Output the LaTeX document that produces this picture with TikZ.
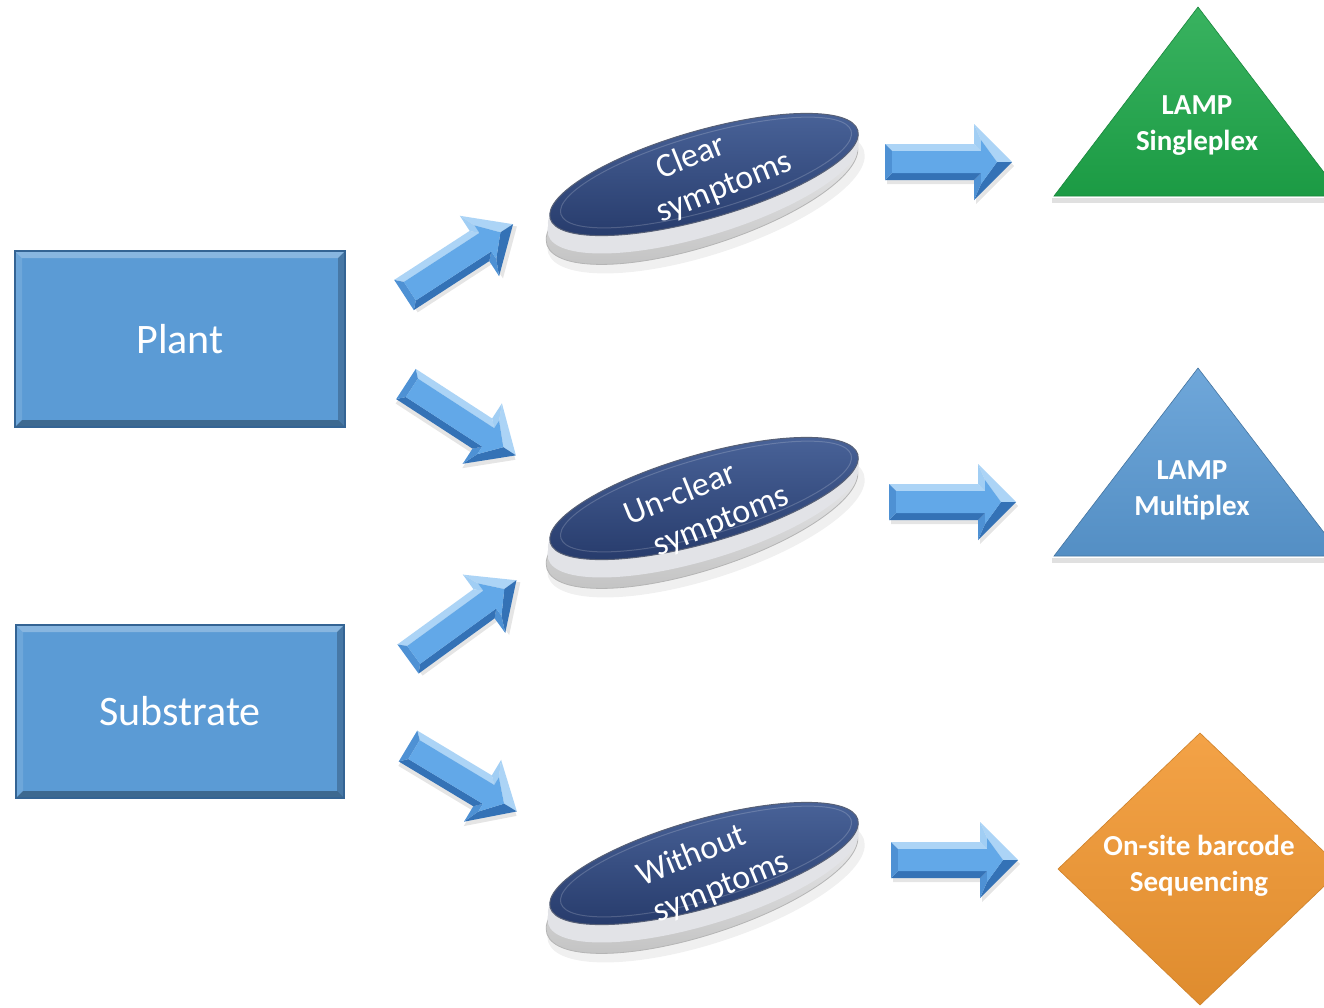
\documentclass[tikz,border=0pt]{standalone}
\usepackage{fontspec}
\setmainfont{Carlito}
\usetikzlibrary{shapes.geometric,shadows,calc}

\definecolor{boxblue}{RGB}{91,155,213}
\definecolor{boxedge}{RGB}{52,100,148}
\definecolor{navytop}{RGB}{74,100,154}
\definecolor{navybot}{RGB}{38,58,106}
\definecolor{arrlight}{RGB}{172,212,246}
\definecolor{arrbase}{RGB}{98,168,232}
\definecolor{arrmid}{RGB}{78,145,212}
\definecolor{arrdark}{RGB}{52,114,182}
\definecolor{lampgreen}{RGB}{30,168,74}
\definecolor{lampblue}{RGB}{91,155,213}
\definecolor{seqorange}{RGB}{242,152,50}
\definecolor{rimgray}{RGB}{226,227,231}

\tikzset{
  sourcebox/.style={rectangle, draw=boxedge, line width=1.6pt, fill=boxblue,
    text=white, font=\fontsize{42}{50}\selectfont, inner sep=0pt,
    path picture={
      \fill[white,opacity=0.28] (path picture bounding box.north west) -- (path picture bounding box.north east)
        -- ([shift={(-7pt,-7pt)}]path picture bounding box.north east) -- ([shift={(7pt,-7pt)}]path picture bounding box.north west) -- cycle;
      \fill[white,opacity=0.12] (path picture bounding box.north west) -- (path picture bounding box.south west)
        -- ([shift={(7pt,7pt)}]path picture bounding box.south west) -- ([shift={(7pt,-7pt)}]path picture bounding box.north west) -- cycle;
      \fill[black,opacity=0.22] (path picture bounding box.north east) -- (path picture bounding box.south east)
        -- ([shift={(-7pt,7pt)}]path picture bounding box.south east) -- ([shift={(-7pt,-7pt)}]path picture bounding box.north east) -- cycle;
      \fill[black,opacity=0.32] (path picture bounding box.south west) -- (path picture bounding box.south east)
        -- ([shift={(-7pt,7pt)}]path picture bounding box.south east) -- ([shift={(7pt,7pt)}]path picture bounding box.south west) -- cycle;
    }},
  rimshadow/.style={ellipse, minimum width=332pt, minimum height=106pt, inner sep=0pt, rotate=18,
    fill=black, opacity=0.06},
  rimbase/.style={ellipse, minimum width=326pt, minimum height=102pt, inner sep=0pt, rotate=18,
    top color=rimgray!50!white, bottom color=gray!48, draw=gray!58, line width=0.8pt},
  rimband/.style={ellipse, minimum width=324pt, minimum height=96pt, inner sep=0pt, rotate=17, fill=rimgray},
  disc/.style={ellipse, minimum width=320pt, minimum height=88pt, inner sep=0pt, rotate=16,
    top color=navytop, bottom color=navybot, draw=gray!55!navybot, line width=1pt},
  dischl/.style={ellipse, minimum width=302pt, minimum height=76pt, inner sep=0pt, rotate=16,
    draw=white, draw opacity=0.18, line width=1pt},
  disctext/.style={text=white, font=\fontsize{34}{40}\selectfont, align=center, rotate=22, inner sep=0pt},
  resulttext/.style={text=white, font=\bfseries\fontsize{29}{36}\selectfont, align=center, inner sep=0pt},
  pics/blockarr/.style n args={4}{code={
    \coordinate (-O1) at (0,-#2);
    \coordinate (-O2) at (#1-#4,-#2);
    \coordinate (-O3) at (#1-#4,-#3);
    \coordinate (-O4) at (#1,0);
    \coordinate (-O5) at (#1-#4,#3);
    \coordinate (-O6) at (#1-#4,#2);
    \coordinate (-O7) at (0,#2);
    \coordinate (-I1) at (7,-#2+7);
    \coordinate (-I2) at (#1-#4+7,-#2+7);
    \coordinate (-I3) at (#1-#4+7,-#3+16);
    \coordinate (-I4) at (#1-15,0);
    \coordinate (-I5) at (#1-#4+7,#3-16);
    \coordinate (-I6) at (#1-#4+7,#2-7);
    \coordinate (-I7) at (7,#2-7);
    \fill[black,opacity=0.10] ([shift={(2pt,-4pt)}]-O1) -- ([shift={(2pt,-4pt)}]-O2) -- ([shift={(2pt,-4pt)}]-O3) -- ([shift={(2pt,-4pt)}]-O4)
      -- ([shift={(2pt,-4pt)}]-O5) -- ([shift={(2pt,-4pt)}]-O6) -- ([shift={(2pt,-4pt)}]-O7) -- cycle;
    \fill[arrlight] (-O1) -- (-O2) -- (-I2) -- (-I1) -- cycle;
    \fill[arrlight!85!arrbase] (-O2) -- (-O3) -- (-I3) -- (-I2) -- cycle;
    \fill[arrlight] (-O3) -- (-O4) -- (-I4) -- (-I3) -- cycle;
    \fill[arrdark] (-O4) -- (-O5) -- (-I5) -- (-I4) -- cycle;
    \fill[arrmid] (-O5) -- (-O6) -- (-I6) -- (-I5) -- cycle;
    \fill[arrdark] (-O6) -- (-O7) -- (-I7) -- (-I6) -- cycle;
    \fill[arrmid] (-O7) -- (-O1) -- (-I1) -- (-I7) -- cycle;
    \fill[arrbase] (-I1) -- (-I2) -- (-I3) -- (-I4) -- (-I5) -- (-I6) -- (-I7) -- cycle;
  }}
}

\begin{document}
\begin{tikzpicture}[x=1pt,y=-1pt]
\useasboundingbox (0,0) rectangle (1324,1007);
\clip (0,0) rectangle (1324,1007);
\fill[white] (0,0) rectangle (1324,1007);

% source boxes
\node[sourcebox, minimum width=330pt, minimum height=176pt] (plant) at (180,339) {Plant};
\node[sourcebox, minimum width=328pt, minimum height=173pt] (substrate) at (180,711.5) {Substrate};

% symptom discs
\foreach \n/\cx/\cy in {1/704/174.5, 2/704/498.5, 3/704/863.5}{
  \node[rimshadow] at (\cx+2,\cy+27) {};
  \node[rimbase] (rim\n) at (\cx-2,\cy+20) {};
  \node[rimband] at (\cx-1,\cy+13) {};
  \node[rimband] at (\cx-0.5,\cy+6) {};
  \node[disc] (e\n) at (\cx,\cy) {};
  \node[dischl] at (\cx+2,\cy-2) {};
}
\node[disctext] (t1) at (717,169) {Clear\hspace*{40pt}\\symptoms};
\node[disctext] (t2) at (714,503) {Un-clear\hspace*{56pt}\\symptoms};
\node[disctext] (t3) at (714,869) {Without\hspace*{32pt}\\symptoms};

% diagonal block arrows
\pic (a1) [rotate=33] at (404,295) {blockarr={130}{18}{36}{40}};
\pic (a2) [rotate=-33] at (406,384) {blockarr={131}{18}{36}{40}};
\pic (a3) [rotate=36] at (408,659) {blockarr={134}{18}{36}{40}};
\pic (a4) [rotate=-31] at (408,746) {blockarr={127}{18}{36}{40}};

% right block arrows
\pic (b1) at (885,162) {blockarr={127}{18}{38}{38}};
\pic (b2) at (889,502) {blockarr={127}{18}{38}{38}};
\pic (b3) at (891,860) {blockarr={127}{18}{38}{38}};

% results
\fill[black,opacity=0.12] (1052,198) -- (1344,198) -- (1344,203) -- (1052,203) -- cycle;
\path[top color=lampgreen!88!white, bottom color=lampgreen!92!black, draw=lampgreen!80!black, line width=0.6pt]
  (1198,7) -- (1342,196) -- (1054,196) -- cycle;
\node[resulttext] (single) at (1197,126) {LAMP\\Singleplex};

\fill[black,opacity=0.12] (1052,558) -- (1344,558) -- (1344,563) -- (1052,563) -- cycle;
\path[top color=lampblue!88!white, bottom color=lampblue!92!black, draw=lampblue!75!black, line width=0.6pt]
  (1198,368) -- (1342,556) -- (1054,556) -- cycle;
\node[resulttext] (multi) at (1192,490) {LAMP\\Multiplex};

\path[top color=seqorange!90!white, bottom color=seqorange!92!black, draw=seqorange!85!black, line width=0.6pt]
  (1200,733) -- (1342,869) -- (1200,1005) -- (1058,869) -- cycle;
\node[resulttext] (seq) at (1199,866) {On-site barcode\\Sequencing};
\end{tikzpicture}
\end{document}
